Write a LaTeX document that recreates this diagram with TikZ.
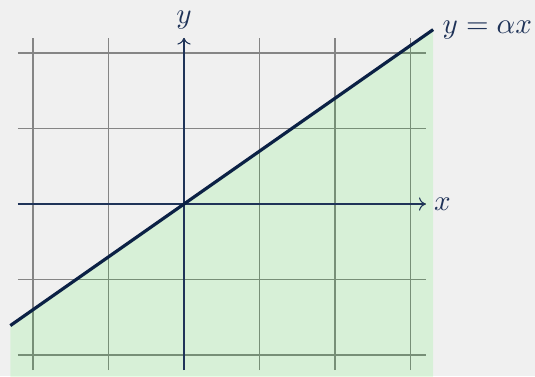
\documentclass[tikz,border=0pt]{standalone}
\usetikzlibrary{arrows.meta,backgrounds,calc}
\definecolor{PlotBg}{HTML}{F0F0F0}
\definecolor{PlotNavy}{HTML}{0B2145}
\definecolor{AxisNavy}{HTML}{1F3358}
\definecolor{HalfGreen}{HTML}{00F000}
\definecolor{GridGrey}{HTML}{858585}

\begin{document}
\begin{tikzpicture}[
            x=1cm, y=1cm,
            font=\fontsize{11}{13}\selectfont,
            gridline/.style={draw=GridGrey, line width=0.45pt},
            axis/.style={-{To[length=2.5pt,width=5pt]}, draw=AxisNavy, line width=0.4pt},
            halfplane/.style={fill=HalfGreen, fill opacity=0.1},
            boundary/.style={draw=PlotNavy, line width=1.2pt},
            lbl/.style={text=AxisNavy, inner sep=3pt},
        ]
        % canvas
        \path[fill=PlotBg, use as bounding box] (-2.437,-2.278) rectangle (4.649,2.702);

        \coordinate (lo) at (-2.3,-1.61);
        \coordinate (hi) at (3.3,2.31);

        \draw[gridline, step=1] (-2.2,-2.2) grid (3.2,2.2);

        % region below the line
        \fill[halfplane] (-2.3,-2.3) -- (lo) -- (hi) -- (3.3,-2.3) -- cycle;

        \coordinate (xs) at (-2.2,0);
        \coordinate (ys) at (0,-2.2);
        \node[lbl, right] (xlbl) at (3.2,0) {$x$};
        \node[lbl, above] (ylbl) at (0,2.2) {$y$};
        \draw[axis] (xs) -- (xlbl.west);
        \draw[axis] (ys) -- (ylbl.south);

        \draw[boundary] (lo) -- (hi) node[lbl, right] (eq) {$y=\alpha x$};
    \end{tikzpicture}
\end{document}
